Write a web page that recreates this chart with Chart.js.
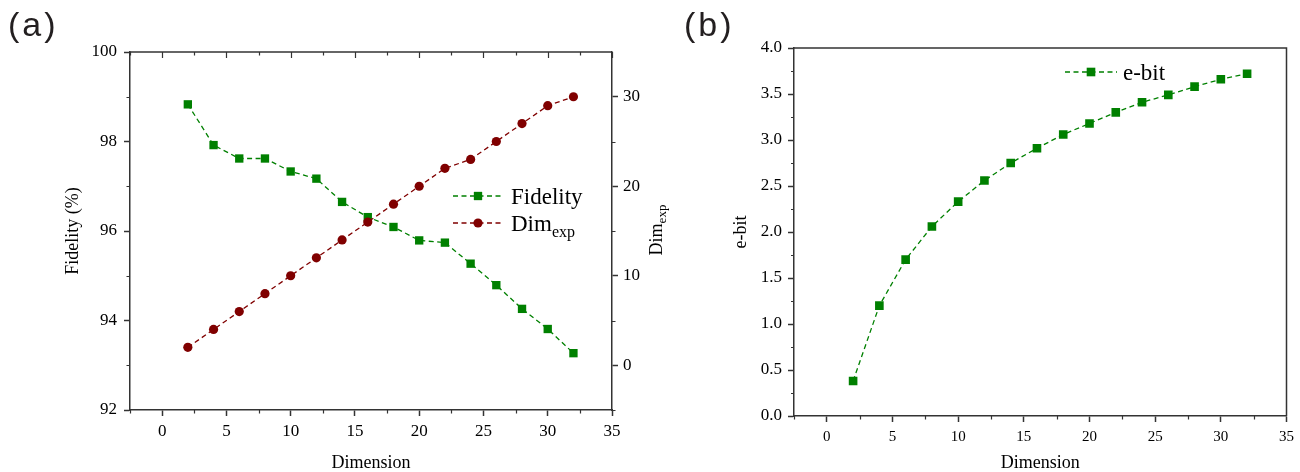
<!DOCTYPE html>
<html><head><meta charset="utf-8">
<script src="https://cdn.jsdelivr.net/npm/chart.js@4.4.0/dist/chart.umd.min.js"></script>
<style>
html,body{margin:0;padding:0;background:#fff;}
#wrap{position:relative;width:1300px;height:472px;overflow:hidden;background:#fff;}
#c1box{position:absolute;left:0;top:0;width:680px;height:472px;}
#c2box{position:absolute;left:680px;top:0;width:620px;height:472px;}
canvas{display:block;}
</style></head><body>
<div id="wrap">
  <div id="c1box"><canvas id="c1" width="680" height="472"></canvas></div>
  <div id="c2box"><canvas id="c2" width="620" height="472"></canvas></div>
</div>
<script>
// ---------- data ----------
const dimensions = [2, 4, 6, 8, 10, 12, 14, 16, 18, 20, 22, 24, 26, 28, 30, 32];
const fidelity = [98.83, 97.92, 97.62, 97.62, 97.33, 97.17, 96.65, 96.31, 96.09, 95.79, 95.74, 95.27, 94.79, 94.26, 93.81, 93.27];
const dimExp = [2, 4, 6, 8, 10, 12, 14, 16, 18, 20, 22, 23, 25, 27, 29, 30];
const ebit = [0.38, 1.20, 1.70, 2.06, 2.33, 2.56, 2.75, 2.91, 3.06, 3.18, 3.30, 3.41, 3.49, 3.58, 3.66, 3.72];

const xTicks = [0, 5, 10, 15, 20, 25, 30, 35];
const xMinorTicks = [-2.5, 2.5, 7.5, 12.5, 17.5, 22.5, 27.5, 32.5];
const fidelityTicks = [92, 94, 96, 98, 100];
const fidelityMinor = [93, 95, 97, 99];
const dimExpTicks = [0, 10, 20, 30];
const dimExpMinor = [-5, 5, 15, 25];
const ebitTicks = [0, 0.5, 1.0, 1.5, 2.0, 2.5, 3.0, 3.5, 4.0];
const ebitMinor = [0.25, 0.75, 1.25, 1.75, 2.25, 2.75, 3.25, 3.75];

// ---------- styles ----------
const SERIF = "'Liberation Serif', 'Times New Roman', serif";
const AXIS = '#333333';
const GREEN = '#008000';
const RED = '#800000';

function pts(xs, ys) { return xs.map((x, i) => ({ x: x, y: ys[i] })); }
function fixTicks(list) { return s => { s.ticks = list.map(v => ({ value: v })); }; }

function axisBase(extra) {
  return Object.assign({
    type: 'linear',
    grid: { drawOnChartArea: false, drawTicks: true, tickLength: 6, tickColor: AXIS, tickWidth: 1.5 },
    border: { display: true, color: AXIS, width: 1.5 },
  }, extra);
}

function drawMinor(ctx, scale, values, len, side) {
  ctx.save();
  ctx.strokeStyle = AXIS; ctx.lineWidth = 1.2;
  ctx.beginPath();
  values.forEach(v => {
    const p = Math.round(scale.getPixelForValue(v)) + 0.5;
    if (side === 'left') { ctx.moveTo(scale.right, p); ctx.lineTo(scale.right - len, p); }
    else if (side === 'right') { ctx.moveTo(scale.left, p); ctx.lineTo(scale.left + len, p); }
    else if (side === 'bottom') { ctx.moveTo(p, scale.top); ctx.lineTo(p, scale.top + len); }
  });
  ctx.stroke();
  ctx.restore();
}

function drawMarker(ctx, style, x, y, r, color) {
  ctx.save();
  ctx.fillStyle = color;
  ctx.beginPath();
  if (style === 'rect') {
    const s = r / Math.SQRT2;
    ctx.rect(x - s, y - s, 2 * s, 2 * s);
  } else {
    ctx.arc(x, y, r, 0, Math.PI * 2);
  }
  ctx.fill();
  ctx.restore();
}

function drawLegendItem(ctx, ds, x1, x2, y, tx, sub) {
  ctx.save();
  ctx.strokeStyle = ds.borderColor;
  ctx.lineWidth = ds.borderWidth;
  ctx.setLineDash(ds.borderDash);
  ctx.beginPath(); ctx.moveTo(x1, y); ctx.lineTo(x2, y); ctx.stroke();
  ctx.setLineDash([]);
  drawMarker(ctx, ds.pointStyle, (x1 + x2) / 2, y, ds.pointRadius, ds.pointBackgroundColor);
  ctx.fillStyle = '#000';
  ctx.textBaseline = 'alphabetic';
  ctx.textAlign = 'left';
  ctx.font = '23px ' + SERIF;
  ctx.fillText(ds.label, tx, y + 8);
  if (sub) {
    const w = ctx.measureText(ds.label).width;
    ctx.font = '16px ' + SERIF;
    ctx.fillText(sub, tx + w, y + 14);
  }
  ctx.restore();
}

function drawPanelLabel(ctx, text, x, y) {
  ctx.save();
  ctx.fillStyle = '#231f20';
  ctx.font = '34px "Liberation Sans", Arial, sans-serif';
  if ('letterSpacing' in ctx) ctx.letterSpacing = '3px';
  ctx.textBaseline = 'alphabetic';
  ctx.fillText(text, x, y);
  ctx.restore();
}

// ---------- chart (a) ----------
const plugA = {
  id: 'decorA',
  afterDraw(chart) {
    const ctx = chart.ctx, ca = chart.chartArea;
    const sx = chart.scales.x, sy = chart.scales.y, sy1 = chart.scales.y1;
    // top frame with inward ticks
    ctx.save();
    ctx.strokeStyle = AXIS; ctx.lineWidth = 1.5;
    ctx.beginPath(); ctx.moveTo(ca.left, ca.top); ctx.lineTo(ca.right, ca.top); ctx.stroke();
    ctx.lineWidth = 1.2;
    ctx.beginPath();
    xTicks.forEach(v => { const p = Math.round(sx.getPixelForValue(v)) + 0.5; ctx.moveTo(p, ca.top); ctx.lineTo(p, ca.top + 6); });
    xMinorTicks.forEach(v => { const p = Math.round(sx.getPixelForValue(v)) + 0.5; ctx.moveTo(p, ca.top); ctx.lineTo(p, ca.top + 3.5); });
    ctx.stroke();
    ctx.restore();
    drawMinor(ctx, sx, xMinorTicks, 3.5, 'bottom');
    drawMinor(ctx, sy, fidelityMinor, 3.5, 'left');
    drawMinor(ctx, sy1, dimExpMinor, 3.5, 'right');
    // right axis title Dim_exp
    ctx.save();
    ctx.translate(662, 230);
    ctx.rotate(-Math.PI / 2);
    ctx.fillStyle = '#000';
    ctx.textBaseline = 'alphabetic';
    ctx.font = '18px ' + SERIF;
    const w1 = ctx.measureText('Dim').width;
    ctx.font = '13px ' + SERIF;
    const w2 = ctx.measureText('exp').width;
    const x0 = -(w1 + w2) / 2;
    ctx.font = '18px ' + SERIF;
    ctx.fillText('Dim', x0, 0);
    ctx.font = '13px ' + SERIF;
    ctx.fillText('exp', x0 + w1, 4);
    ctx.restore();
    // legend
    const ds = chart.data.datasets;
    drawLegendItem(ctx, ds[0], 453, 503, 196, 511, null);
    drawLegendItem(ctx, ds[1], 453, 503, 223, 511, 'exp');
    drawPanelLabel(ctx, '(a)', 8, 36);
  }
};

new Chart(document.getElementById('c1'), {
  type: 'line',
  data: {
    datasets: [
      { label: 'Fidelity', data: pts(dimensions, fidelity), yAxisID: 'y', order: 2,
        borderColor: GREEN, borderWidth: 1.3, borderDash: [5, 3.5], fill: false, tension: 0,
        pointStyle: 'rect', pointRadius: 5.9, pointBackgroundColor: GREEN, pointBorderColor: GREEN, pointBorderWidth: 0 },
      { label: 'Dim', data: pts(dimensions, dimExp), yAxisID: 'y1', order: 1,
        borderColor: RED, borderWidth: 1.3, borderDash: [5, 3.5], fill: false, tension: 0,
        pointStyle: 'circle', pointRadius: 4.6, pointBackgroundColor: RED, pointBorderColor: RED, pointBorderWidth: 0 }
    ]
  },
  options: {
    responsive: false, animation: false,
    layout: { padding: { left: 62, top: 52, right: 0, bottom: 0 } },
    plugins: { legend: { display: false }, tooltip: { enabled: false } },
    scales: {
      x: axisBase({ position: 'bottom', min: -2.5, max: 35,
        afterBuildTicks: fixTicks(xTicks),
        afterFit: s => { s.height = 62; },
        ticks: { autoSkip: false, maxRotation: 0, padding: 5, color: '#000', font: { family: SERIF, size: 17 } },
        title: { display: true, text: 'Dimension', color: '#000', padding: 0, font: { family: SERIF, size: 18, lineHeight: 1 } } }),
      y: axisBase({ position: 'left', min: 92, max: 100,
        afterBuildTicks: fixTicks(fidelityTicks),
        afterFit: s => { s.width = 68; },
        ticks: { autoSkip: false, padding: 7, color: '#000', font: { family: SERIF, size: 17 } },
        title: { display: true, text: 'Fidelity (%)', color: '#000', padding: { top: 2, bottom: 0 }, font: { family: SERIF, size: 18, lineHeight: 1 } } }),
      y1: axisBase({ position: 'right', min: -5, max: 35,
        afterBuildTicks: fixTicks(dimExpTicks),
        afterFit: s => { s.width = 68; },
        ticks: { autoSkip: false, padding: 5, color: '#000', font: { family: SERIF, size: 17 } } })
    }
  },
  plugins: [plugA]
});

// ---------- chart (b) ----------
const plugB = {
  id: 'decorB',
  afterDraw(chart) {
    const ctx = chart.ctx, ca = chart.chartArea;
    ctx.save();
    ctx.strokeStyle = AXIS; ctx.lineWidth = 1.5;
    ctx.beginPath();
    ctx.moveTo(ca.left, ca.top); ctx.lineTo(ca.right, ca.top); ctx.lineTo(ca.right, ca.bottom);
    ctx.stroke();
    ctx.restore();
    drawMinor(ctx, chart.scales.x, xMinorTicks, 3.5, 'bottom');
    drawMinor(ctx, chart.scales.y, ebitMinor, 3, 'left');
    drawLegendItem(ctx, chart.data.datasets[0], 385, 437, 72, 443, null);
    drawPanelLabel(ctx, '(b)', 4, 36);
  }
};

new Chart(document.getElementById('c2'), {
  type: 'line',
  data: {
    datasets: [
      { label: 'e-bit', data: pts(dimensions, ebit), yAxisID: 'y',
        borderColor: GREEN, borderWidth: 1.3, borderDash: [5, 3.5], fill: false, tension: 0,
        pointStyle: 'rect', pointRadius: 6.1, pointBackgroundColor: GREEN, pointBorderColor: GREEN, pointBorderWidth: 0 }
    ]
  },
  options: {
    responsive: false, animation: false,
    layout: { padding: { left: 50, top: 48, right: 13, bottom: 0 } },
    plugins: { legend: { display: false }, tooltip: { enabled: false } },
    scales: {
      x: axisBase({ position: 'bottom', min: -2.5, max: 35,
        afterBuildTicks: fixTicks(xTicks),
        afterFit: s => { s.height = 56; },
        ticks: { autoSkip: false, maxRotation: 0, padding: 6, color: '#000', font: { family: SERIF, size: 15 } },
        title: { display: true, text: 'Dimension', color: '#000', padding: 0, font: { family: SERIF, size: 18, lineHeight: 1 } } }),
      y: axisBase({ position: 'left', min: 0, max: 4,
        afterBuildTicks: fixTicks(ebitTicks),
        afterFit: s => { s.width = 64; },
        ticks: { autoSkip: false, padding: 6, color: '#000', font: { family: SERIF, size: 17 }, callback: v => Number(v).toFixed(1) },
        title: { display: true, text: 'e-bit', color: '#000', padding: { top: 2, bottom: 0 }, font: { family: SERIF, size: 18, lineHeight: 1 } } })
    }
  },
  plugins: [plugB]
});
</script>
</body></html>
